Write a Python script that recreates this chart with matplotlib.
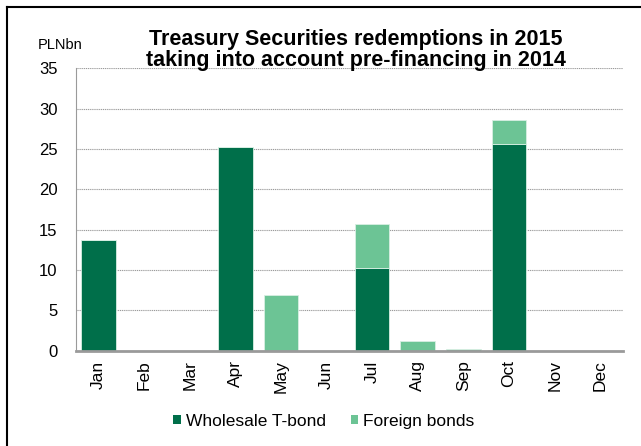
import matplotlib
matplotlib.use("Agg")
import matplotlib.pyplot as plt
from matplotlib.lines import Line2D
from matplotlib.patches import Patch
import numpy as np

plt.rcParams['font.family'] = ['Liberation Sans', 'DejaVu Sans']

months = ["Jan", "Feb", "Mar", "Apr", "May", "Jun", "Jul", "Aug", "Sep", "Oct", "Nov", "Dec"]
wholesale = [13.7, 0, 0, 25.2, 0, 0, 10.3, 0, 0, 25.6, 0, 0]
foreign = [0, 0, 0, 0, 6.85, 0, 5.35, 1.15, 0.25, 3.0, 0, 0]
yticks = [0, 5, 10, 15, 20, 25, 30, 35]

dark = "#006F4A"
light = "#6CC495"

fig = plt.figure(figsize=(6.41, 4.46), dpi=100)
ax = fig.add_axes([0.118, 0.2137, 0.854, 0.633])

x = np.arange(len(months))
ax.bar(x, wholesale, width=0.76, color=dark, edgecolor="#d8efe3", linewidth=0.6, zorder=3)
ax.bar(x, foreign, bottom=wholesale, width=0.76, color=light, edgecolor="#d8efe3", linewidth=0.6, zorder=3)

ax.set_xlim(-0.5, len(months) - 0.5)
ax.set_ylim(0, 35)
ax.set_yticks(yticks)
ax.set_yticklabels([str(v) for v in yticks], fontsize=12)
ax.set_xticks(x)
ax.set_xticklabels(months, rotation=90, fontsize=12.5)
ax.tick_params(axis="both", length=0, pad=7)
ax.tick_params(axis="y", pad=13)

ax.yaxis.grid(True, color="#9a9a9a", linestyle=(0, (1, 0.7)), linewidth=0.8, zorder=0)
ax.set_axisbelow(True)
for s in ("top", "right"):
    ax.spines[s].set_visible(False)
ax.spines["left"].set_color("#9a9a9a")
ax.spines["left"].set_linewidth(0.8)
ax.spines["bottom"].set_color("#9a9a9a")
ax.spines["bottom"].set_linewidth(2.0)
ax.spines["bottom"].set_zorder(4)

fig.text(0.555, 0.888, "Treasury Securities redemptions in 2015\ntaking into account pre-financing in 2014",
         ha="center", va="center", fontsize=15.5, fontweight="bold", linespacing=0.97)
fig.text(0.094, 0.899, "PLNbn", ha="center", va="center", fontsize=10.5)

handles = [Patch(facecolor=dark, edgecolor="none"), Patch(facecolor=light, edgecolor="none")]
fig.legend(handles, ["Wholesale T-bond", "Foreign bonds"], loc="center",
           bbox_to_anchor=(0.505, 0.056), ncol=2, frameon=False, fontsize=12.5,
           handlelength=0.42, handleheight=0.42, handletextpad=0.29, columnspacing=1.44)

# frame lines along the top and left edges
fig.add_artist(Line2D([0.011, 1.0], [0.985, 0.985], transform=fig.transFigure, color="black", linewidth=1.5))
fig.add_artist(Line2D([0.011, 0.011], [0.0, 0.985], transform=fig.transFigure, color="black", linewidth=1.5))

fig.savefig("out.png", dpi=100)
